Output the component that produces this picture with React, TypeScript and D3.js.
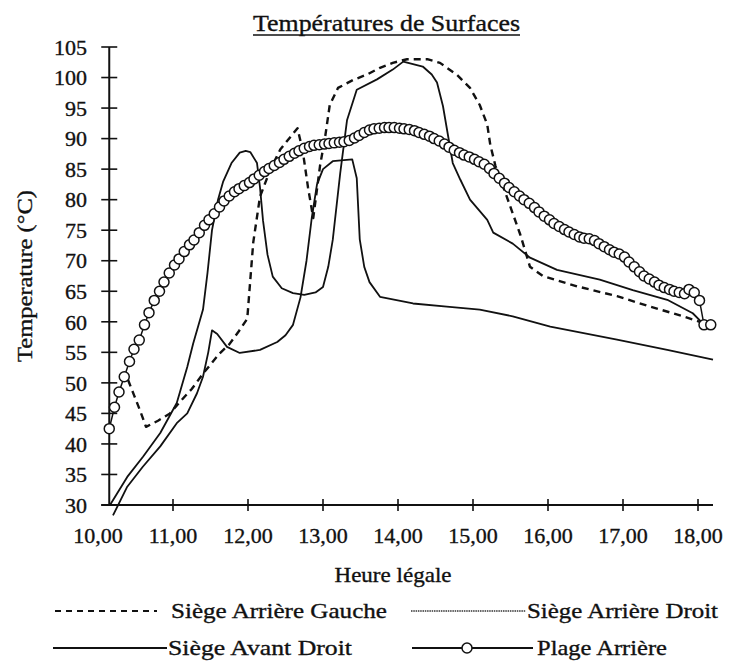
import React from "react";
import * as d3 from "d3";

const W = 732;
const H = 666;

const TITLE = "Températures de Surfaces";
const Y_TITLE = "Temperature (°C)";
const X_TITLE = "Heure légale";
const X_TICKS = [10, 11, 12, 13, 14, 15, 16, 17, 18];
const X_TICK_LABELS = ["10,00", "11,00", "12,00", "13,00", "14,00", "15,00", "16,00", "17,00", "18,00"];
const Y_TICKS = [30, 35, 40, 45, 50, 55, 60, 65, 70, 75, 80, 85, 90, 95, 100, 105];

// Siège Arrière Gauche (dashed): [heure, °C]
const ARRIERE_GAUCHE: [number, number][] = [
  [10.40, 50.5], [10.48, 48], [10.56, 45.5], [10.64, 42.8], [10.8, 43.8], [10.96, 45],
  [11.10, 47], [11.25, 49], [11.40, 51.5], [11.50, 53], [11.62, 54.8], [11.75, 56.3],
  [11.88, 58.5], [11.99, 60.5], [12.07, 73], [12.16, 80.5], [12.30, 85], [12.43, 88.2],
  [12.56, 90.2], [12.66, 91.7], [12.73, 88], [12.80, 82], [12.87, 77], [12.96, 85.5],
  [13.03, 90.4], [13.09, 95.5], [13.20, 98.3], [13.40, 99.6], [13.59, 100.5], [13.76, 101.6],
  [13.93, 102.4], [14.12, 103], [14.39, 103], [14.56, 102.4], [14.79, 100.4], [14.96, 98.3],
  [15.09, 95.5], [15.19, 92.3], [15.23, 89], [15.30, 85.5], [15.45, 80.5], [15.63, 74.3],
  [15.76, 69], [15.93, 67.5], [16.39, 65.8], [16.92, 64.2], [17.36, 62.5], [17.80, 60.9],
  [18.07, 59.8],
];

// Siège Arrière Droit
const ARRIERE_DROIT: [number, number][] = [
  [10.16, 30], [10.39, 34.6], [10.60, 37.9], [10.83, 41.8], [11.05, 46.7], [11.19, 52.6],
  [11.27, 56.5], [11.40, 62], [11.46, 68], [11.52, 75], [11.60, 80], [11.67, 83],
  [11.78, 86], [11.89, 87.7], [11.97, 88], [12.03, 87.8], [12.12, 86], [12.16, 82],
  [12.20, 76.6], [12.26, 71], [12.33, 67.4], [12.45, 65.5], [12.60, 64.7], [12.75, 64.4],
  [12.90, 64.8], [13.00, 65.7], [13.07, 69], [13.13, 73.4], [13.23, 84.4], [13.32, 93],
  [13.45, 98], [13.72, 99.7], [13.93, 101.3], [14.07, 102.6], [14.20, 102.2], [14.33, 101.8],
  [14.45, 100.5], [14.52, 99.2], [14.60, 95.3], [14.66, 91], [14.73, 86], [14.83, 83.3],
  [14.96, 80], [15.19, 76.7], [15.27, 74.6], [15.53, 72.8], [15.76, 70.5], [16.12, 68.5],
  [16.69, 66.9], [17.13, 65.2], [17.59, 63.6], [17.93, 61.4], [18.10, 59.3],
];

// Siège Avant Droit
const AVANT_DROIT: [number, number][] = [
  [10.20, 28.3], [10.39, 33], [10.60, 36.3], [10.83, 39.6], [11.05, 43.4], [11.19, 45],
  [11.32, 48.3], [11.40, 51], [11.47, 55], [11.52, 58.6], [11.59, 58], [11.72, 55.9],
  [11.89, 54.9], [12.16, 55.4], [12.39, 56.7], [12.50, 57.8], [12.60, 59.5], [12.70, 64],
  [12.78, 70], [12.85, 77], [12.92, 82.5], [13.00, 85], [13.13, 86.3], [13.39, 86.6],
  [13.45, 83.5], [13.49, 73.5], [13.55, 69], [13.62, 66.5], [13.76, 64.1], [14.20, 63],
  [14.65, 62.5], [15.09, 62], [15.53, 60.9], [16.03, 59.2], [16.92, 57.1], [17.59, 55.4],
  [18.20, 53.8],
];

// Plage Arrière (circles), one reading every ~4 minutes
const PLAGE_ARRIERE: [number, number][] = [
  [10.15, 42.5], [10.22, 46], [10.28, 48.5], [10.35, 51], [10.42, 53.5], [10.48, 55.5],
  [10.55, 57], [10.62, 59.5], [10.68, 61.5], [10.75, 63.5], [10.82, 65], [10.88, 66.5],
  [10.95, 68], [11.02, 69.3], [11.08, 70.3], [11.15, 71.5], [11.22, 72.6], [11.28, 73.4],
  [11.35, 74.6], [11.42, 75.8], [11.48, 76.7], [11.55, 77.7], [11.62, 78.8], [11.68, 79.8],
  [11.75, 80.6], [11.82, 81.3], [11.88, 81.8], [11.95, 82.3], [12.02, 82.8], [12.08, 83.4],
  [12.15, 84], [12.22, 84.6], [12.28, 85.1], [12.35, 85.6], [12.42, 86.1], [12.48, 86.6],
  [12.55, 87.1], [12.62, 87.6], [12.68, 88], [12.75, 88.4], [12.82, 88.7], [12.88, 88.9],
  [12.95, 89], [13.02, 89.1], [13.08, 89.2], [13.15, 89.3], [13.22, 89.4], [13.28, 89.5],
  [13.35, 89.7], [13.42, 90.1], [13.48, 90.5], [13.55, 91], [13.62, 91.4], [13.68, 91.6],
  [13.75, 91.7], [13.82, 91.8], [13.88, 91.8], [13.95, 91.8], [14.02, 91.7], [14.08, 91.6],
  [14.15, 91.5], [14.22, 91.3], [14.28, 91], [14.35, 90.7], [14.42, 90.4], [14.48, 90],
  [14.55, 89.6], [14.62, 89.1], [14.68, 88.6], [14.75, 88.1], [14.82, 87.7], [14.88, 87.3],
  [14.95, 87], [15.02, 86.6], [15.08, 86.2], [15.15, 85.8], [15.22, 85.1], [15.28, 84.3],
  [15.35, 83.5], [15.42, 82.7], [15.48, 82], [15.55, 81.3], [15.62, 80.6], [15.68, 80],
  [15.75, 79.4], [15.82, 78.7], [15.88, 78], [15.95, 77.3], [16.02, 76.7], [16.08, 76.1],
  [16.15, 75.6], [16.22, 75.1], [16.28, 74.7], [16.35, 74.3], [16.42, 73.9], [16.48, 73.7],
  [16.55, 73.6], [16.62, 73.3], [16.68, 72.8], [16.75, 72.3], [16.82, 71.8], [16.88, 71.4],
  [16.95, 71.1], [17.02, 70.6], [17.08, 69.8], [17.15, 69], [17.22, 68.2], [17.28, 67.5],
  [17.35, 67], [17.42, 66.5], [17.48, 66], [17.55, 65.6], [17.62, 65.3], [17.68, 65],
  [17.75, 64.8], [17.82, 64.6], [17.88, 65.3], [17.95, 64.8], [18.02, 63.5], [18.08, 59.5],
  [18.17, 59.5],
];

const FONT = "'Liberation Serif', 'Times New Roman', serif";
const INK = "#111";
const TXT = { fill: INK, stroke: INK, strokeWidth: 0.35 };

export default function App() {
  const x = d3.scaleLinear().domain([10, 18]).range([98, 698]);
  const y = d3.scaleLinear().domain([30, 105]).range([505, 47]);
  const line = d3
    .line<[number, number]>()
    .x((d) => x(d[0]))
    .y((d) => y(d[1]));

  const axisX0 = x(10.15);
  const axisX1 = x(18.2);

  return (
    <svg
      width={W}
      height={H}
      style={{ position: "absolute", left: 0, top: 0, background: "#fff" }}
      fontFamily={FONT}
    >
      <rect x={0} y={0} width={W} height={H} fill="#fff" />
      {/* Title */}
      <text x={386.5} y={31} fontSize={23} textAnchor="middle" textLength={267} lengthAdjust="spacingAndGlyphs" {...TXT}>
        {TITLE}
      </text>
      <line x1={253} x2={520} y1={35} y2={35} stroke={INK} strokeWidth={1.5} />

      {/* Y axis */}
      <line x1={axisX0} x2={axisX0} y1={y(30)} y2={y(105)} stroke={INK} strokeWidth={2} />
      {Y_TICKS.map((t) => (
        <g key={t}>
          <line x1={axisX0 - 8} x2={axisX0 + 8} y1={y(t)} y2={y(t)} stroke={INK} strokeWidth={1.6} />
          <text x={87} y={y(t)} dy="0.35em" fontSize={22} textAnchor="end" {...TXT}>
            {t}
          </text>
        </g>
      ))}
      <text
        transform={`translate(25,276) rotate(-90)`}
        fontSize={21}
        textAnchor="middle"
        dy="0.35em"
        textLength={172}
        lengthAdjust="spacingAndGlyphs"
        {...TXT}
      >
        {Y_TITLE}
      </text>

      {/* X axis */}
      <line x1={axisX0 - 8} x2={axisX1} y1={y(30)} y2={y(30)} stroke={INK} strokeWidth={2} />
      {X_TICKS.map((t, i) => (
        <g key={t}>
          {t > 10 && (
            <line x1={x(t)} x2={x(t)} y1={y(30) - 6} y2={y(30) + 6} stroke={INK} strokeWidth={1.6} />
          )}
          <text x={x(t)} y={543} fontSize={22} textAnchor="middle" {...TXT}>
            {X_TICK_LABELS[i]}
          </text>
        </g>
      ))}
      <text x={393} y={582} fontSize={22} textAnchor="middle" textLength={117} lengthAdjust="spacingAndGlyphs" {...TXT}>
        {X_TITLE}
      </text>

      {/* Series */}
      <path d={line(AVANT_DROIT) || ""} fill="none" stroke={INK} strokeWidth={1.8} strokeLinejoin="round" />
      <path d={line(ARRIERE_DROIT) || ""} fill="none" stroke={INK} strokeWidth={1.8} strokeLinejoin="round" />
      <path d={line(ARRIERE_GAUCHE) || ""} fill="none" stroke={INK} strokeWidth={2.4} strokeDasharray="7 5" strokeLinejoin="round" />
      <path d={line(PLAGE_ARRIERE) || ""} fill="none" stroke={INK} strokeWidth={1.5} />
      {PLAGE_ARRIERE.map((d, i) => (
        <circle key={i} cx={x(d[0])} cy={y(d[1])} r={5} fill="#fff" stroke={INK} strokeWidth={1.5} />
      ))}

      {/* Legend */}
      <line x1={55} x2={157} y1={611} y2={611} stroke={INK} strokeWidth={2} strokeDasharray="6 5" />
      <text x={171} y={618} fontSize={22} textLength={216} lengthAdjust="spacingAndGlyphs" {...TXT}>
        Siège Arrière Gauche
      </text>
      <line x1={411} x2={526} y1={611} y2={611} stroke="#333" strokeWidth={1.4} strokeDasharray="1.5 0.8" />
      <text x={527} y={618} fontSize={22} textLength={191} lengthAdjust="spacingAndGlyphs" {...TXT}>
        Siège Arrière Droit
      </text>
      <line x1={53} x2={167} y1={648} y2={648} stroke={INK} strokeWidth={2.2} />
      <text x={168} y={655} fontSize={22} textLength={184} lengthAdjust="spacingAndGlyphs" {...TXT}>
        Siège Avant Droit
      </text>
      <line x1={412} x2={533} y1={648} y2={648} stroke={INK} strokeWidth={2.2} />
      <circle cx={467} cy={648} r={5} fill="#fff" stroke={INK} strokeWidth={1.5} />
      <text x={537} y={655} fontSize={22} textLength={130} lengthAdjust="spacingAndGlyphs" {...TXT}>
        Plage Arrière
      </text>
    </svg>
  );
}
